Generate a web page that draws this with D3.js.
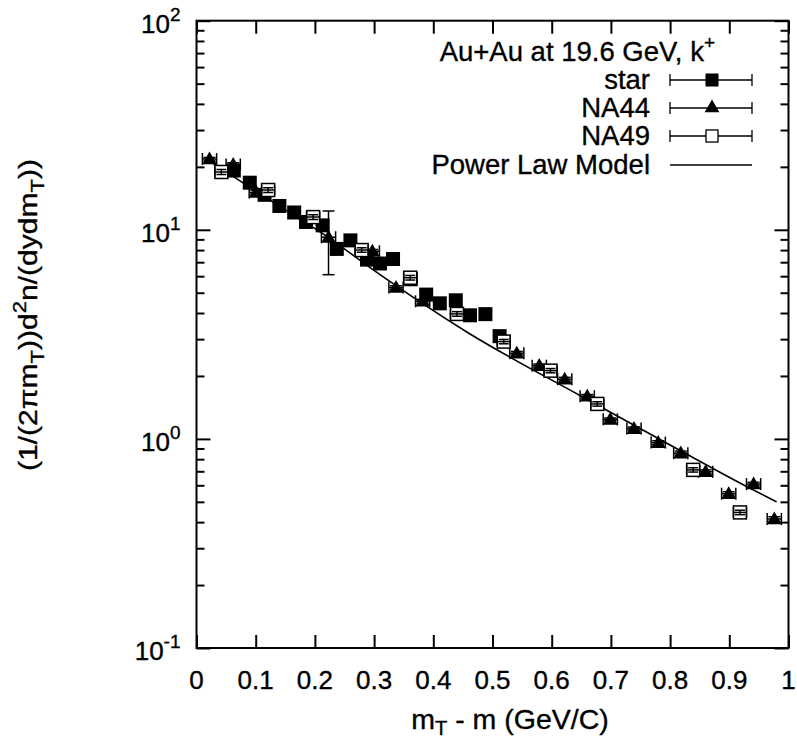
<!DOCTYPE html>
<html>
<head>
<meta charset="utf-8">
<script src="https://cdn.jsdelivr.net/npm/d3@7"></script>
<style>
  body { margin: 0; background: #fff; }
  svg { display: block; font-family: "Liberation Sans", Arial, sans-serif; }
  svg text { stroke: #000; stroke-width: 0.35px; }
</style>
</head>
<body>
<div id="chart"></div>
<script>
// data
const starX = [0.063, 0.09, 0.115, 0.14, 0.165, 0.185, 0.213, 0.237, 0.26, 0.288, 0.31, 0.332, 0.362, 0.388, 0.411, 0.438, 0.462, 0.488, 0.512];
const starY = [19.2, 16.8, 14.7, 13.0, 12.1, 10.9, 10.5, 8.1, 8.9, 7.2, 6.9, 7.25, 5.8, 4.9, 4.45, 4.6, 3.9, 3.95, 3.1];

const na44X = [0.022, 0.062, 0.101, 0.223, 0.297, 0.337, 0.382, 0.541, 0.579, 0.622, 0.66, 0.699, 0.739, 0.78, 0.818, 0.86, 0.899, 0.941, 0.976];
const na44Y = [21.8, 20.5, 15.1, 9.2, 7.9, 5.3, 4.55, 2.57, 2.24, 1.93, 1.6, 1.24, 1.12, 0.96, 0.855, 0.696, 0.547, 0.608, 0.414];
const na44YErr = [0.4, 0.4, 0.3, 3.1, 0.15, 0.1, 0.1, 0.05, 0.04, 0.04, 0.03, 0.02, 0.02, 0.02, 0.02, 0.015, 0.012, 0.012, 0.01];
const na44XErr = 0.012;

const na49X = [0.042, 0.121, 0.197, 0.279, 0.361, 0.44, 0.519, 0.598, 0.677, 0.839, 0.918];
const na49Y = [18.9, 15.5, 11.5, 8.0, 5.9, 3.96, 2.92, 2.12, 1.47, 0.711, 0.445];
const na49YErr = [0.5, 0.4, 0.3, 0.2, 0.15, 0.1, 0.07, 0.05, 0.035, 0.017, 0.011];
const na49XErr = 0.011;

const modelX = [0.02, 0.1, 0.22, 0.31, 0.46, 0.65, 0.82, 0.93, 0.98];
const modelY = [21.5, 15.3, 9.3, 6.1, 3.2, 1.6, 0.87, 0.59, 0.50];

const xTicks = [0, 0.1, 0.2, 0.3, 0.4, 0.5, 0.6, 0.7, 0.8, 0.9, 1];
const yMajor = [0.1, 1, 10, 100];
const yExp = ["-1", "0", "1", "2"];
const legendNames = ["star", "NA44", "NA49", "Power Law Model"];

// layout
const width = 797, height = 740;
const margin = { top: 20.7, right: 8.5, bottom: 92, left: 196.5 };
const fontSize = 26;
const legendFont = 27.5;

const svg = d3.select("#chart").append("svg")
    .attr("width", width).attr("height", height);

const x = d3.scaleLinear().domain([0, 1]).range([margin.left, width - margin.right]);
const y = d3.scaleLog().domain([0.1, 100]).range([height - margin.bottom, margin.top]);

const yMinor = y.ticks().filter(v => !yMajor.some(m => Math.abs(m - v) < 1e-9));

// ticks pointing inward on all four sides
const tickAxes = [
    [d3.axisBottom(x).tickValues(xTicks).tickSize(-13), `translate(0,${y(0.1)})`],
    [d3.axisTop(x).tickValues(xTicks).tickSize(-13), `translate(0,${y(100)})`],
    [d3.axisLeft(y).tickValues(yMajor).tickSize(-14), `translate(${x(0)},0)`],
    [d3.axisLeft(y).tickValues(yMinor).tickSize(-8), `translate(${x(0)},0)`],
    [d3.axisRight(y).tickValues(yMajor).tickSize(-14), `translate(${x(1)},0)`],
    [d3.axisRight(y).tickValues(yMinor).tickSize(-8), `translate(${x(1)},0)`]
];
tickAxes.forEach(([ax, tr]) => {
    const g = svg.append("g").attr("transform", tr).call(ax.tickFormat(""));
    g.select(".domain").remove();
    g.selectAll("line").attr("stroke", "#000").attr("stroke-width", 2);
});

// frame
svg.append("rect")
    .attr("x", x(0)).attr("y", y(100))
    .attr("width", x(1) - x(0)).attr("height", y(0.1) - y(100))
    .attr("fill", "none").attr("stroke", "#000").attr("stroke-width", 2);

// x tick labels
svg.append("g").selectAll("text").data(xTicks).join("text")
    .attr("x", d => x(d)).attr("y", y(0.1) + 41)
    .attr("text-anchor", "middle").attr("font-size", fontSize)
    .text(d => d3.format("~g")(d));

// y tick labels 10^n
yMajor.forEach((v, i) => {
    const t = svg.append("text")
        .attr("x", x(0) - 16).attr("y", y(v) + 12)
        .attr("text-anchor", "end").attr("font-size", fontSize);
    t.append("tspan").text("10");
    t.append("tspan").attr("dy", -12).attr("font-size", 19).text(yExp[i]);
});

// axis titles
const xl = svg.append("text")
    .attr("x", 510).attr("y", 729)
    .attr("text-anchor", "middle").attr("font-size", 28.5);
xl.append("tspan").text("m");
xl.append("tspan").attr("dy", 6).attr("font-size", 20).text("T");
xl.append("tspan").attr("dy", -6).text(" - m (GeV/C)");

const yl = svg.append("text")
    .attr("transform", "translate(37,315) rotate(-90)")
    .attr("text-anchor", "middle").attr("font-size", fontSize)
    .attr("textLength", 312).attr("lengthAdjust", "spacingAndGlyphs");
yl.append("tspan").text("(1/(2\u03c0m");
yl.append("tspan").attr("dy", 7).attr("font-size", 19).text("T");
yl.append("tspan").attr("dy", -7).text("))d");
yl.append("tspan").attr("dy", -11).attr("font-size", 19).text("2");
yl.append("tspan").attr("dy", 11).text("n/(dydm");
yl.append("tspan").attr("dy", 7).attr("font-size", 19).text("T");
yl.append("tspan").attr("dy", -7).text("))");

// plot area clip
svg.append("clipPath").attr("id", "plot").append("rect")
    .attr("x", x(0)).attr("y", y(100))
    .attr("width", x(1) - x(0)).attr("height", y(0.1) - y(100));
const plot = svg.append("g").attr("clip-path", "url(#plot)");

// model curve
const modelData = modelX.map((d, i) => ({ x: d, y: modelY[i] }));
plot.append("path")
    .datum(modelData)
    .attr("fill", "none").attr("stroke", "#000").attr("stroke-width", 1.6)
    .attr("d", d3.line().x(d => x(d.x)).y(d => y(d.y)).curve(d3.curveMonotoneX));

// error bars helper
function errorBars(g, data, capW) {
    data.forEach(d => {
        if (d.xe) {
            g.append("line").attr("x1", x(d.x - d.xe)).attr("x2", x(d.x + d.xe))
                .attr("y1", y(d.y)).attr("y2", y(d.y));
            [d.x - d.xe, d.x + d.xe].forEach(v => g.append("line")
                .attr("x1", x(v)).attr("x2", x(v))
                .attr("y1", y(d.y) - capW).attr("y2", y(d.y) + capW));
        }
        if (d.ye) {
            g.append("line").attr("x1", x(d.x)).attr("x2", x(d.x))
                .attr("y1", y(d.y - d.ye)).attr("y2", y(d.y + d.ye));
            [d.y - d.ye, d.y + d.ye].forEach(v => g.append("line")
                .attr("x1", x(d.x) - capW).attr("x2", x(d.x) + capW)
                .attr("y1", y(v)).attr("y2", y(v)));
        }
    });
    g.selectAll("line").attr("stroke", "#000").attr("stroke-width", 1.5);
}

const na44Data = na44X.map((d, i) => ({ x: d, y: na44Y[i], xe: na44XErr, ye: na44YErr[i] }));
const na49Data = na49X.map((d, i) => ({ x: d, y: na49Y[i], xe: na49XErr, ye: na49YErr[i] }));
const starData = starX.map((d, i) => ({ x: d, y: starY[i] }));

// NA44 triangles
errorBars(plot.append("g"), na44Data, 6);
const tri = d3.symbol().type(d3.symbolTriangle).size(95);
plot.append("g").selectAll("path").data(na44Data).join("path")
    .attr("transform", d => `translate(${x(d.x)},${y(d.y) + 1})`)
    .attr("d", tri).attr("fill", "#000");

// star filled squares
plot.append("g").selectAll("rect").data(starData).join("rect")
    .attr("x", d => x(d.x) - 7).attr("y", d => y(d.y) - 7)
    .attr("width", 14).attr("height", 14).attr("fill", "#000");

// NA49 open squares
plot.append("g").selectAll("rect").data(na49Data).join("rect")
    .attr("x", d => x(d.x) - 6.5).attr("y", d => y(d.y) - 6.5)
    .attr("width", 13).attr("height", 13)
    .attr("fill", "#fff").attr("stroke", "#000").attr("stroke-width", 1.5);
errorBars(plot.append("g"), na49Data, 5);

// legend
const legendRight = 650;
const title = svg.append("text")
    .attr("x", 715).attr("y", 61)
    .attr("text-anchor", "end").attr("font-size", legendFont);
title.append("tspan").text("Au+Au at 19.6 GeV, k");
title.append("tspan").attr("dy", -12).attr("font-size", 19).text("+");

const rowY = [80, 108, 136, 165];
const sx1 = 670, sx2 = 752, sxm = 712;
legendNames.forEach((name, i) => {
    svg.append("text")
        .attr("x", legendRight).attr("y", rowY[i] + 9)
        .attr("text-anchor", "end").attr("font-size", legendFont)
        .text(name);
    const g = svg.append("g");
    g.append("line").attr("x1", sx1).attr("x2", sx2).attr("y1", rowY[i]).attr("y2", rowY[i])
        .attr("stroke", "#000").attr("stroke-width", 1.3);
    if (i < 3) {
        [sx1, sx2].forEach(v => g.append("line")
            .attr("x1", v).attr("x2", v).attr("y1", rowY[i] - 6).attr("y2", rowY[i] + 6)
            .attr("stroke", "#000").attr("stroke-width", 1.3));
    }
    if (i === 0) {
        g.append("rect").attr("x", sxm - 6.5).attr("y", rowY[i] - 6.5)
            .attr("width", 13).attr("height", 13).attr("fill", "#000");
    } else if (i === 1) {
        g.append("path").attr("transform", `translate(${sxm},${rowY[i]})`)
            .attr("d", tri).attr("fill", "#000");
    } else if (i === 2) {
        g.append("rect").attr("x", sxm - 6).attr("y", rowY[i] - 6)
            .attr("width", 12).attr("height", 12)
            .attr("fill", "#fff").attr("stroke", "#000").attr("stroke-width", 1.3);
    }
});
</script>
</body>
</html>
